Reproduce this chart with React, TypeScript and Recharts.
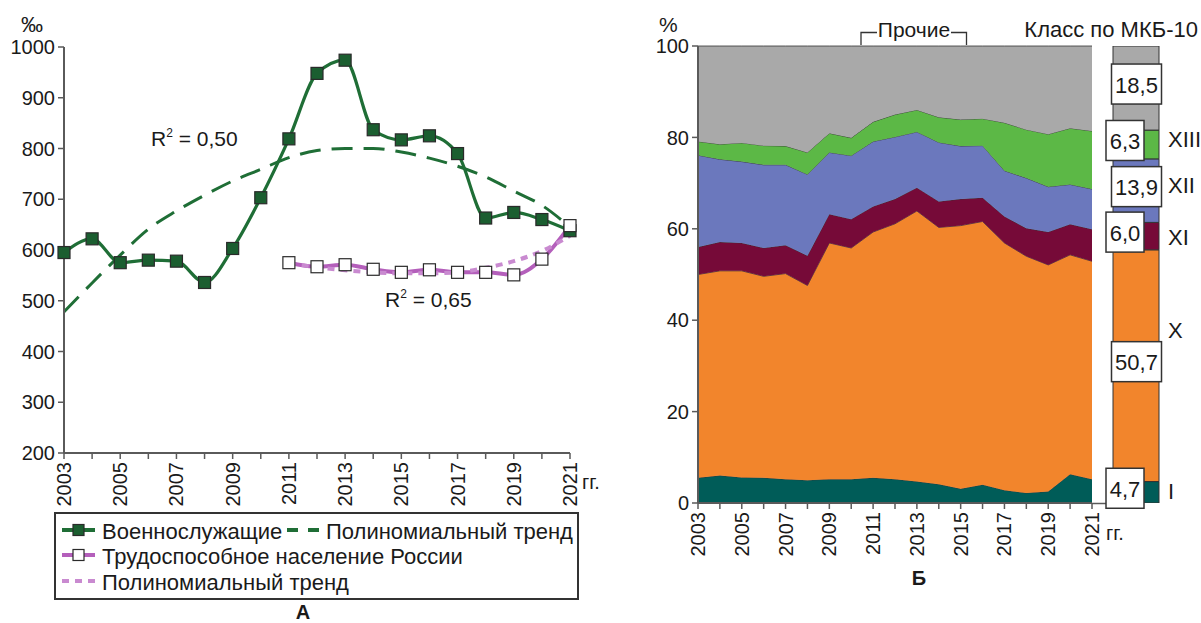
import React from "react";
import {
  LineChart, Line, AreaChart, Area, BarChart, Bar, LabelList,
  XAxis, YAxis,
} from "recharts";

const years = [2003, 2004, 2005, 2006, 2007, 2008, 2009, 2010, 2011, 2012, 2013, 2014, 2015, 2016, 2017, 2018, 2019, 2020, 2021];
const yearLabels = [2003, 2005, 2007, 2009, 2011, 2013, 2015, 2017, 2019, 2021];

// А: заболеваемость, ‰
const military = [595, 622, 575, 580, 578, 536, 603, 703, 819, 948, 974, 837, 817, 825, 790, 663, 674, 660, 638];
const militaryTrend = [478, 535, 590, 641, 677, 708, 736, 759, 782, 796, 800, 800, 793, 781, 765, 744, 716, 688, 645];
const working = [null, null, null, null, null, null, null, null, 575, 567, 571, 562, 556, 561, 556, 556, 551, 582, 648];
const workingTrend = [null, null, null, null, null, null, null, null, 574, 566, 560, 556, 554, 554, 556, 565, 578, 598, 628];
const leftTicks = [200, 300, 400, 500, 600, 700, 800, 900, 1000];

// Б: структура по классам МКБ-10, %
const classI = [5.5, 6.0, 5.6, 5.5, 5.2, 5.0, 5.2, 5.2, 5.5, 5.2, 4.7, 4.1, 3.1, 4.0, 2.8, 2.2, 2.5, 6.3, 5.2];
const classX = [44.5, 44.8, 45.2, 44.1, 45.0, 42.6, 51.7, 50.6, 53.8, 55.9, 59.2, 56.2, 57.6, 57.6, 54.1, 51.8, 49.6, 48.0, 47.7];
const classXI = [6.0, 6.3, 6.1, 6.2, 6.2, 6.5, 6.3, 6.3, 5.6, 5.4, 5.1, 5.7, 5.8, 5.2, 5.8, 6.1, 7.2, 6.7, 7.0];
const classXII = [20.1, 18.1, 17.8, 18.2, 17.6, 17.8, 13.5, 13.9, 14.2, 13.6, 12.2, 12.9, 11.6, 11.4, 10.0, 11.0, 9.9, 8.7, 8.8];
const classXIII = [3.0, 3.3, 4.1, 4.2, 4.1, 4.8, 4.2, 3.9, 4.3, 4.9, 4.8, 5.5, 5.8, 5.9, 10.5, 10.6, 11.5, 12.3, 12.7];
const classOther = [20.9, 21.5, 21.2, 21.8, 21.9, 23.3, 19.1, 20.1, 16.6, 15.0, 14.0, 15.6, 16.1, 15.9, 16.8, 18.3, 19.3, 18.0, 18.6];
const rightTicks = [0, 20, 40, 60, 80, 100];

// среднее за период (столбец справа)
const avgKeys = ["I", "X", "XI", "XII", "XIII", "other"];
const avgValues = [4.7, 50.7, 6.0, 13.9, 6.3, 18.5];

const FONT = '"Liberation Sans", Arial, sans-serif';
const INK = "#1a1a1a";
const AXIS = "#5a5a5a";
const GREEN = "#1f6e36";
const PURPLE = "#b45fbb";

const layers = [
  { key: "I", fill: "#005c58", numeral: "I", numDy: -1, wide: false },
  { key: "X", fill: "#f2852c", numeral: "X", numDy: -35, wide: true },
  { key: "XI", fill: "#760a38", numeral: "XI", numDy: 1, wide: false },
  { key: "XII", fill: "#6b78bd", numeral: "XII", numDy: -5, wide: true },
  { key: "XIII", fill: "#5cb846", numeral: "XIII", numDy: -5, wide: false },
  { key: "other", fill: "#a9a9a9", numeral: "", numDy: 0, wide: true },
];

const leftData = years.map((year, i) => ({
  year,
  military: military[i],
  militaryTrend: militaryTrend[i],
  working: working[i],
  workingTrend: workingTrend[i],
}));

const rightData = years.map((year, i) => ({
  year,
  I: classI[i],
  X: classX[i],
  XI: classXI[i],
  XII: classXII[i],
  XIII: classXIII[i],
  other: classOther[i],
}));

const avgRow: Record<string, any> = { name: "avg" };
avgKeys.forEach((k, i) => (avgRow[k] = avgValues[i]));
const avgData = [avgRow];

// подписи лет повёрнуты, подписаны только нечётные годы
function YearTick({ x, y, payload }: any) {
  const v = payload.value;
  if (!yearLabels.includes(v)) return <g />;
  return (
    <text
      x={x}
      y={y + 1}
      transform={`rotate(-90 ${x} ${y + 1})`}
      textAnchor="end"
      dominantBaseline="central"
      fontSize={20}
      fontFamily={FONT}
      fill={INK}
    >
      {v}
    </text>
  );
}

const squareDot = (fill: string, size: number) => (props: any) => {
  const { cx, cy, index, value } = props;
  if (cx == null || cy == null || value == null) return <g key={`d${index}`} />;
  return (
    <rect
      key={`d${index}`}
      x={cx - size / 2}
      y={cy - size / 2}
      width={size}
      height={size}
      fill={fill}
      stroke="#2a2a2a"
      strokeWidth={1.2}
    />
  );
};

const boxLabel = (layer: (typeof layers)[number]) => (props: any) => {
  const { x, y, width, height, value } = props;
  const cx = x + width / 2 + (layer.wide ? 0.5 : -11);
  const cy = y + height / 2 - 4;
  const w = layer.wide ? 50 : 38;
  const txt = Number(value).toFixed(1).replace(".", ",");
  return (
    <g>
      <rect x={cx - w / 2} y={cy - 20} width={w} height={40} fill="#fff" stroke="#333" strokeWidth={1.5} />
      <text x={cx} y={cy + 1} textAnchor="middle" dominantBaseline="central" fontSize={22} fontFamily={FONT} fill={INK}>
        {txt}
      </text>
      {layer.numeral && (
        <text
          x={x + width + 9}
          y={y + height / 2 + layer.numDy}
          dominantBaseline="central"
          fontSize={22}
          fontFamily={FONT}
          fill={INK}
        >
          {layer.numeral}
        </text>
      )}
    </g>
  );
};

function LeftChart() {
  return (
    <LineChart width={600} height={623} data={leftData} margin={{ top: 47, right: 30, bottom: 110, left: 8 }}>
      <XAxis
        dataKey="year"
        type="number"
        domain={[2003, 2021]}
        ticks={years}
        interval={0}
        height={60}
        tick={<YearTick />}
        tickSize={6}
        tickLine={{ stroke: AXIS, strokeWidth: 1.5 }}
        axisLine={{ stroke: AXIS, strokeWidth: 2 }}
      />
      <XAxis xAxisId="top" orientation="top" type="number" domain={[2003, 2021]} height={0} tick={false} tickLine={false} axisLine={{ stroke: AXIS, strokeWidth: 2 }} />
      <YAxis
        domain={[200, 1000]}
        ticks={leftTicks}
        interval={0}
        width={56}
        tickSize={6}
        tickMargin={3}
        tick={{ fontSize: 20, fill: INK, fontFamily: FONT }}
        tickLine={{ stroke: AXIS, strokeWidth: 1.5 }}
        axisLine={{ stroke: AXIS, strokeWidth: 2 }}
      />
      <YAxis yAxisId="right" orientation="right" domain={[200, 1000]} width={0} tick={false} tickLine={false} axisLine={{ stroke: AXIS, strokeWidth: 2 }} />
      <Line dataKey="militaryTrend" type="monotone" stroke={GREEN} strokeWidth={3} strokeDasharray="21 11" dot={false} isAnimationActive={false} />
      <Line dataKey="military" type="monotone" stroke={GREEN} strokeWidth={3.2} dot={squareDot("#1b5e30", 12)} isAnimationActive={false} />
      <Line dataKey="working" type="monotone" stroke={PURPLE} strokeWidth={4} dot={false} isAnimationActive={false} />
      <Line dataKey="workingTrend" type="monotone" stroke="#c98ad0" strokeWidth={4} strokeDasharray="7 6" dot={false} isAnimationActive={false} />
      <Line dataKey="working" type="monotone" stroke="none" dot={squareDot("#ffffff", 12)} isAnimationActive={false} />
    </LineChart>
  );
}

function RightChart() {
  return (
    <AreaChart width={480} height={623} data={rightData} margin={{ top: 46, right: 28, bottom: 60, left: 18 }}>
      {layers.map((l) => (
        <Area
          key={l.key}
          dataKey={l.key}
          stackId="1"
          type="linear"
          fill={l.fill}
          fillOpacity={1}
          stroke="#333"
          strokeWidth={0.8}
          isAnimationActive={false}
        />
      ))}
      <XAxis
        dataKey="year"
        type="number"
        domain={[2003, 2021]}
        ticks={years}
        interval={0}
        height={60}
        tick={<YearTick />}
        tickSize={6}
        tickLine={{ stroke: AXIS, strokeWidth: 1.5 }}
        axisLine={{ stroke: AXIS, strokeWidth: 2 }}
      />
      <XAxis xAxisId="top" orientation="top" type="number" domain={[2003, 2021]} height={0} tick={false} tickLine={false} axisLine={{ stroke: AXIS, strokeWidth: 2 }} />
      <YAxis
        domain={[0, 100]}
        ticks={rightTicks}
        interval={0}
        width={40}
        tickSize={6}
        tickMargin={3}
        tick={{ fontSize: 20, fill: INK, fontFamily: FONT }}
        tickLine={{ stroke: AXIS, strokeWidth: 1.5 }}
        axisLine={{ stroke: AXIS, strokeWidth: 2 }}
      />
      <YAxis yAxisId="right" orientation="right" domain={[0, 100]} width={0} tick={false} tickLine={false} axisLine={{ stroke: AXIS, strokeWidth: 2 }} />
    </AreaChart>
  );
}

function AvgColumn({ labels }: { labels: boolean }) {
  return (
    <BarChart width={101} height={623} data={avgData} barCategoryGap={0} margin={{ top: 46, right: 42, bottom: 120, left: 13 }}>
      <XAxis dataKey="name" hide />
      <YAxis domain={[0, 100]} allowDataOverflow hide />
      {layers.map((l) => (
        <Bar
          key={l.key}
          dataKey={l.key}
          stackId="a"
          fill={labels ? "transparent" : l.fill}
          stroke={labels ? "none" : "#333"}
          strokeWidth={1}
          isAnimationActive={false}
        >
          {labels && <LabelList dataKey={l.key} content={boxLabel(l)} />}
        </Bar>
      ))}
    </BarChart>
  );
}

function Annotations() {
  const t = { fontFamily: FONT, fill: INK, fontSize: 20 } as const;
  return (
    <svg width={1201} height={623} style={{ position: "absolute", left: 0, top: 0, pointerEvents: "none" }}>
      <text x={21} y={32} {...t} fontSize={22}>‰</text>
      <text x={659} y={32} {...t} fontSize={21}>%</text>
      <text x={151} y={146} {...t} fontSize={21}>
        R<tspan fontSize={12} dy={-9}>2</tspan><tspan dy={9}> = 0,50</tspan>
      </text>
      <text x={385} y={307} {...t} fontSize={21}>
        R<tspan fontSize={12} dy={-9}>2</tspan><tspan dy={9}> = 0,65</tspan>
      </text>
      <text x={582} y={489} {...t}>гг.</text>
      <text x={1106} y={540} {...t}>гг.</text>
      <text x={303} y={619} {...t} fontWeight="bold" textAnchor="middle">А</text>
      <text x={919} y={585} {...t} fontWeight="bold" textAnchor="middle">Б</text>
      <path d="M861 45 V32.5 H877 M951 32.5 H966.5 V45" fill="none" stroke="#333" strokeWidth={1.3} />
      <text x={914} y={37} {...t} fontSize={21} textAnchor="middle">Прочие</text>
      <text x={1198} y={37} {...t} fontSize={22} textAnchor="end">Класс по МКБ-10</text>
      <line x1={1092} x2={1107} y1={503.5} y2={503.5} stroke={AXIS} strokeWidth={1.5} />

      <rect x={55} y={513} width={523} height={86} fill="#fff" stroke="#333" strokeWidth={2} />
      <line x1={62} x2={95} y1={530} y2={530} stroke={GREEN} strokeWidth={4} />
      <rect x={73} y={524.5} width={11} height={11} fill="#1b5e30" stroke="#2a2a2a" strokeWidth={1.2} />
      <text x={102} y={531} {...t} fontSize={22} dominantBaseline="central">Военнослужащие</text>
      <line x1={287} x2={322} y1={530} y2={530} stroke={GREEN} strokeWidth={4} strokeDasharray="11 10" />
      <text x={326} y={531} {...t} fontSize={22} dominantBaseline="central">Полиномиальный тренд</text>
      <line x1={62} x2={95} y1={555} y2={555} stroke={PURPLE} strokeWidth={4} />
      <rect x={73} y={549.5} width={11} height={11} fill="#fff" stroke="#2a2a2a" strokeWidth={1.2} />
      <text x={102} y={556} {...t} fontSize={22} dominantBaseline="central">Трудоспособное население России</text>
      <line x1={62} x2={95} y1={581} y2={581} stroke="#c98ad0" strokeWidth={4} strokeDasharray="7 6" />
      <text x={102} y={582} {...t} fontSize={22} dominantBaseline="central">Полиномиальный тренд</text>
    </svg>
  );
}

export default function App() {
  return (
    <div style={{ position: "absolute", left: 0, top: 0, width: 1201, height: 623, background: "#fff", fontFamily: FONT }}>
      <div style={{ position: "absolute", left: 0, top: 0 }}>
        <LeftChart />
      </div>
      <div style={{ position: "absolute", left: 640, top: 0 }}>
        <RightChart />
      </div>
      <div style={{ position: "absolute", left: 1100, top: 0 }}>
        <AvgColumn labels={false} />
      </div>
      <Annotations />
      <div style={{ position: "absolute", left: 1100, top: 0 }}>
        <AvgColumn labels={true} />
      </div>
    </div>
  );
}
